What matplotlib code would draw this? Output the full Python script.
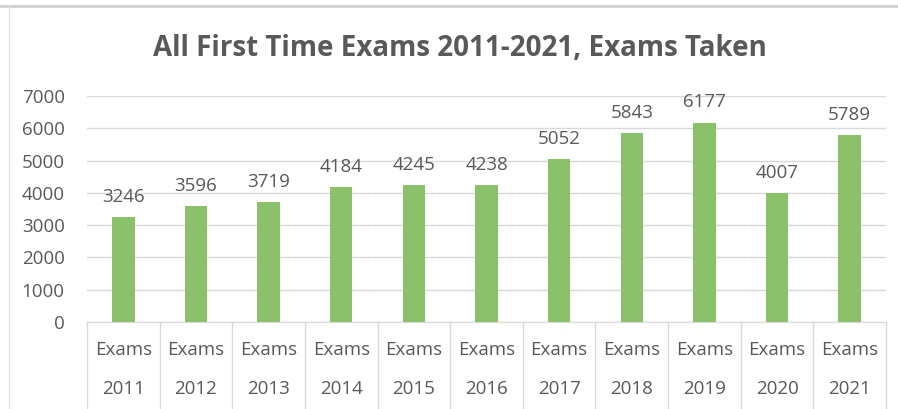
import matplotlib
matplotlib.use("Agg")
import matplotlib.pyplot as plt
from matplotlib.lines import Line2D

plt.rcParams["font.family"] = ["Open Sans", "DejaVu Sans"]

years = ["2011", "2012", "2013", "2014", "2015", "2016",
         "2017", "2018", "2019", "2020", "2021"]
group_label = "Exams"
exams_taken = [3246, 3596, 3719, 4184, 4245, 4238, 5052, 5843, 6177, 4007, 5789]
title = "All First Time Exams 2011-2021, Exams Taken"

TEXT = "#595959"
GRID = "#d9d9d9"
BAR = "#8bc16a"
FS = 13.5

fig = plt.figure(figsize=(8.98, 4.09), dpi=100)
ax = fig.add_axes([87 / 898, (409 - 322) / 409, (886 - 87) / 898, (322 - 96) / 409])

x = list(range(len(years)))
ax.bar(x, exams_taken, width=0.31, color=BAR, zorder=3)
for xi, v in zip(x, exams_taken):
    ax.annotate(str(v), (xi, v), xytext=(0, 8), textcoords="offset points",
                ha="center", va="bottom", fontsize=FS, color=TEXT)

ax.set_xlim(-0.5, len(years) - 0.5)
ax.set_ylim(0, 7000)
ax.set_yticks(range(0, 7001, 1000))
ax.tick_params(axis="y", length=0, pad=16, labelsize=FS, labelcolor=TEXT)
ax.set_xticks([])
ax.grid(axis="y", color=GRID, linewidth=1, zorder=0)
for side in ["top", "right", "left"]:
    ax.spines[side].set_visible(False)
ax.spines["bottom"].set_color(GRID)
ax.spines["bottom"].set_zorder(4)

# two-level category axis
trans = ax.get_xaxis_transform()
span = 322 - 96
bottom = -(409 - 322) / span
for b in [i - 0.5 for i in range(len(years) + 1)]:
    ax.add_line(Line2D([b, b], [0, bottom], transform=trans, color=GRID,
                       linewidth=1, clip_on=False))
row1 = -(350 - 322) / span
row2 = -(389 - 322) / span
for xi, yr in zip(x, years):
    ax.text(xi, row1, group_label, transform=trans, ha="center", va="center",
            fontsize=FS, color=TEXT)
    ax.text(xi, row2, yr, transform=trans, ha="center", va="center",
            fontsize=FS, color=TEXT)

fig.text(460 / 898, 1 - 48 / 409, title, ha="center", va="center",
         fontsize=20, fontweight="bold", color=TEXT)

# chart frame edges visible in the crop
fig.add_artist(Line2D([0, 1], [1 - 5.5 / 409] * 2, color="#d0d0d0", linewidth=2))
fig.add_artist(Line2D([8.5 / 898] * 2, [0, 1 - 6 / 409], color="#e0e0e0", linewidth=1))

fig.savefig("out.png", dpi=100)
